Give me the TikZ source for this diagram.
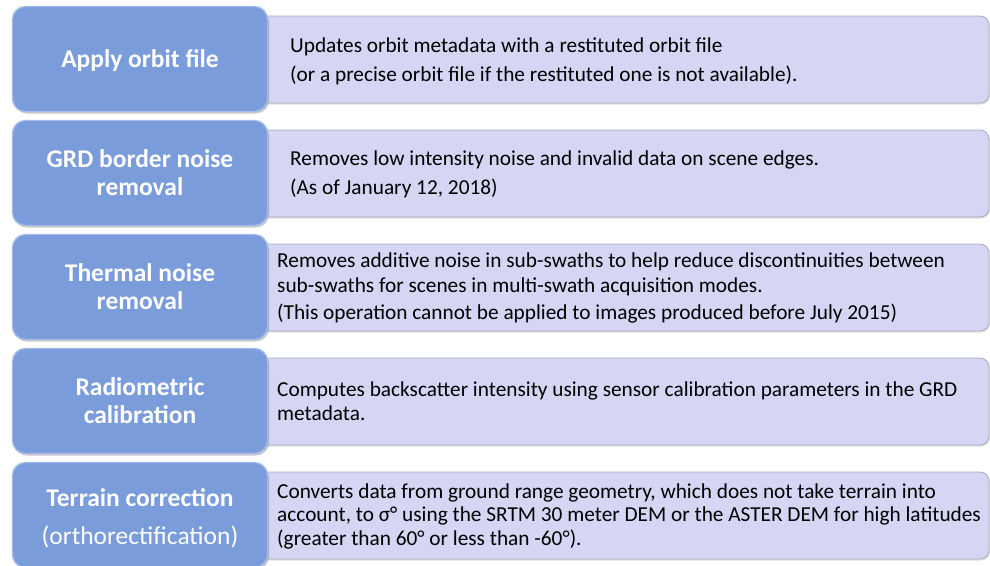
\documentclass[tikz,border=0pt]{standalone}
\usepackage{fontspec}
\setmainfont{Carlito}
\usetikzlibrary{shadows}
\definecolor{stepblue}{HTML}{7A9CDB}
\definecolor{stepedge}{HTML}{A3BAE8}
\definecolor{infofill}{HTML}{D4D6F3}
\definecolor{infoedge}{HTML}{A9ABBE}
\tikzset{
  stepbox/.style={rectangle, rounded corners=13pt, fill=stepblue, draw=stepedge,
    line width=1.4pt, minimum width=255pt, minimum height=105pt, inner sep=0pt,
    drop shadow={shadow xshift=1.5pt, shadow yshift=-2pt, opacity=0.35, fill=black!60},
    text=white, font=\fontsize{25.5}{28}\selectfont\bfseries, align=center},
  infobox/.style={rectangle, rounded corners=9pt, fill=infofill, draw=infoedge,
    line width=0.8pt, minimum width=730pt, minimum height=87pt, inner sep=0pt,
    drop shadow={shadow xshift=1pt, shadow yshift=-1.5pt, opacity=0.25, fill=black!50}},
  infotext/.style={anchor=west, align=left, inner sep=0pt, text=black,
    font=\fontsize{21.3}{29}\selectfont},
}
\begin{document}
\begin{tikzpicture}[x=1pt, y=-1pt]
\useasboundingbox (0,0) rectangle (990,565);

% description panels (behind the step boxes)
\node[infobox] (i1) at (624,59.5) {};
\node[infobox] (i2) at (624,173.5) {};
\node[infobox] (i3) at (624,287.5) {};
\node[infobox] (i4) at (624,401.5) {};
\node[infobox] (i5) at (624,515.5) {};

% processing steps
\node[stepbox] (s1) at (140,59) {};
\node[text=white, font=\fontsize{25.5}{28}\selectfont\bfseries] (h1) at (140,61) {Apply orbit file};
\node[stepbox] (s2) at (140,173) {GRD border noise\\removal};
\node[stepbox] (s3) at (140,287) {Thermal noise\\removal};
\node[stepbox] (s4) at (140,401) {Radiometric\\calibration};
\node[stepbox] (s5) at (140,515) {};
\node[text=white, align=center, font=\fontsize{25.5}{38}\selectfont] (h5) at (140,518)
  {\bfseries Terrain correction\\(orthorectification)};

% descriptions
\node[infotext] (t1) at (290,61) {Updates orbit metadata with a restituted orbit file\\(or a precise orbit file if the restituted one is not available).};
\node[infotext] (t2) at (290,174.5) {Removes low intensity noise and invalid data on scene edges.\\(As of January 12, 2018)};
\node[infotext, font=\fontsize{21.3}{25}\selectfont] (t3) at (277,287.5)
  {Removes additive noise in sub-swaths to help reduce discontinuities between\\sub-swaths for scenes in multi-swath acquisition modes.\\[2pt](This operation cannot be applied to images produced before July 2015)};
\node[infotext, font=\fontsize{21.3}{24}\selectfont] (t4) at (277,401.5)
  {Computes backscatter intensity using sensor calibration parameters in the GRD\\metadata.};
\node[infotext, font=\fontsize{21.3}{23.5}\selectfont] (t5) at (277,516)
  {Converts data from ground range geometry, which does not take terrain into\\account, to σ° using the SRTM 30 meter DEM or the ASTER DEM for high latitudes\\(greater than 60° or less than -60°).};
\end{tikzpicture}
\end{document}
